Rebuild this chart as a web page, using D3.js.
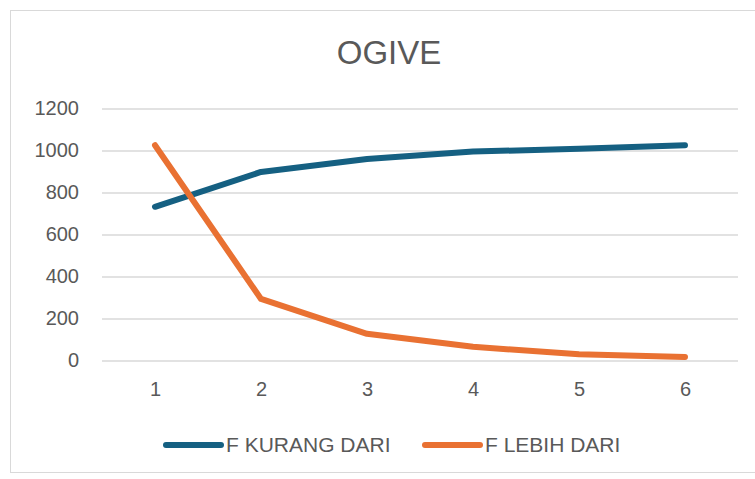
<!DOCTYPE html>
<html>
<head>
<meta charset="utf-8">
<script src="https://cdn.jsdelivr.net/npm/d3@7"></script>
<style>
  html, body { margin: 0; padding: 0; background: #ffffff; }
  svg { display: block; font-family: 'Liberation Sans', Arial, sans-serif; }
</style>
</head>
<body>
<svg id="chart" width="755" height="479"></svg>
<script>
const categories = [1, 2, 3, 4, 5, 6];
const fKurangDari = [732, 898, 960, 995, 1008, 1025];
const fLebihDari = [1025, 293, 127, 65, 30, 17];
const yTicks = [0, 200, 400, 600, 800, 1000, 1200];
const seriesNames = ['F KURANG DARI', 'F LEBIH DARI'];

(function () {
  const svg = d3.select('#chart');
  const textColor = '#595959';
  const gridColor = '#d9d9d9';
  const colors = ['#156082', '#e97132'];

  // chart area border
  svg.append('rect')
    .attr('x', 10.5)
    .attr('y', 10.5)
    .attr('width', 800)
    .attr('height', 462)
    .attr('fill', '#ffffff')
    .attr('stroke', gridColor)
    .attr('stroke-width', 1);

  const x = d3.scalePoint().domain(categories).range([102, 738]).padding(0.5);
  const y = d3.scaleLinear().domain([0, 1200]).range([360.5, 108.5]);

  svg.append('text')
    .attr('x', 389)
    .attr('y', 64)
    .attr('text-anchor', 'middle')
    .attr('fill', textColor)
    .attr('font-size', 33)
    .text('OGIVE');

  const yAxis = d3.axisLeft(y)
    .tickValues(yTicks)
    .tickFormat(d3.format('d'))
    .tickSize(-(738 - 102))
    .tickPadding(23);

  const yg = svg.append('g')
    .attr('transform', 'translate(102,0)')
    .call(yAxis);
  yg.select('.domain').remove();
  yg.selectAll('.tick line').attr('stroke', gridColor).attr('stroke-width', 1.5);
  yg.selectAll('.tick text')
    .attr('fill', textColor)
    .attr('font-size', 20)
    .attr('font-family', "'Liberation Sans', Arial, sans-serif");

  const xAxis = d3.axisBottom(x).tickSize(0).tickPadding(21);
  const xg = svg.append('g')
    .attr('transform', 'translate(0,' + y(0) + ')')
    .call(xAxis);
  xg.select('.domain').remove();
  xg.selectAll('.tick text')
    .attr('fill', textColor)
    .attr('font-size', 20)
    .attr('font-family', "'Liberation Sans', Arial, sans-serif");

  const line = d3.line()
    .x(function (d, i) { return x(categories[i]); })
    .y(function (d) { return y(d); });

  [fKurangDari, fLebihDari].forEach(function (values, i) {
    svg.append('path')
      .datum(values)
      .attr('d', line)
      .attr('fill', 'none')
      .attr('stroke', colors[i])
      .attr('stroke-width', 6)
      .attr('stroke-linecap', 'round')
      .attr('stroke-linejoin', 'round');
  });

  // legend
  const legendX = [166, 425];
  seriesNames.forEach(function (name, i) {
    const g = svg.append('g').attr('transform', 'translate(' + legendX[i] + ',445)');
    g.append('line')
      .attr('x1', 0)
      .attr('x2', 55)
      .attr('stroke', colors[i])
      .attr('stroke-width', 6)
      .attr('stroke-linecap', 'round');
    g.append('text')
      .attr('x', 60)
      .attr('y', 7)
      .attr('fill', textColor)
      .attr('font-size', 21)
      .text(name);
  });
})();
</script>
</body>
</html>
